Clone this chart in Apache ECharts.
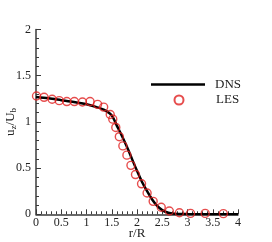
<!DOCTYPE html>
<html>
<head>
<meta charset="utf-8">
<script src="https://cdn.jsdelivr.net/npm/echarts@6/dist/echarts.min.js"></script>
<style>
html,body{margin:0;padding:0;background:#fff;}
#c{width:272px;height:242px;}
</style>
</head>
<body>
<div id="c"></div>
<script>
const xTicks = [0, 0.5, 1, 1.5, 2, 2.5, 3, 3.5, 4];
const yTicks = [0, 0.5, 1, 1.5, 2];
const dnsR = [0, 0.25, 0.5, 0.75, 1.0, 1.2, 1.35, 1.5, 1.6, 1.7, 1.8, 1.9, 2.0, 2.1, 2.2, 2.3, 2.4, 2.5, 2.6, 2.75, 3.0, 3.5, 4.0];
const dnsU = [1.27, 1.255, 1.235, 1.215, 1.19, 1.16, 1.13, 1.07, 0.96, 0.85, 0.73, 0.60, 0.47, 0.35, 0.25, 0.16, 0.09, 0.045, 0.02, 0.007, 0.002, 0, 0];
const lesR = [0.01, 0.16, 0.32, 0.46, 0.61, 0.76, 0.92, 1.07, 1.22, 1.34, 1.47, 1.52, 1.58, 1.65, 1.72, 1.80, 1.88, 1.97, 2.09, 2.20, 2.32, 2.48, 2.64, 2.84, 3.06, 3.35, 3.71];
const lesU = [1.28, 1.266, 1.245, 1.23, 1.22, 1.22, 1.215, 1.22, 1.19, 1.16, 1.08, 1.03, 0.94, 0.84, 0.74, 0.64, 0.53, 0.43, 0.33, 0.23, 0.14, 0.076, 0.036, 0.017, 0.01, 0.01, 0.007];

const font = "'Liberation Serif', 'Times New Roman', serif";
const chart = echarts.init(document.getElementById('c'), null, {renderer: 'canvas'});
const axisCommon = {
  axisLine: {show: true, lineStyle: {color: '#3a3a3a', width: 1.5}},
  axisTick: {show: true, inside: true, length: 5, lineStyle: {color: '#3a3a3a', width: 1}},
  minorTick: {show: true, splitNumber: 5, length: 3, lineStyle: {color: '#3a3a3a', width: 1}},
  splitLine: {show: false},
  nameMoveOverlap: false,
  axisLabel: {fontFamily: font, fontSize: 12, color: '#222'}
};
chart.setOption({
  animation: false,
  backgroundColor: '#fff',
  grid: {left: 36, right: 34, top: 29.5, bottom: 27.7, containLabel: false, outerBoundsMode: 'none'},
  xAxis: Object.assign({}, axisCommon, {
    type: 'value', min: xTicks[0], max: xTicks[xTicks.length - 1], interval: 0.5,
    name: 'r/R', nameLocation: 'middle', nameGap: 13,
    nameTextStyle: {fontFamily: font, fontSize: 13, color: '#222'},
    axisLabel: Object.assign({}, axisCommon.axisLabel, {margin: 3, formatter: v => String(v)})
  }),
  yAxis: Object.assign({}, axisCommon, {
    type: 'value', min: yTicks[0], max: yTicks[yTicks.length - 1], interval: 0.5,
    name: '{m|u}{s|z}{m|/U}{s|b}', nameLocation: 'middle', nameGap: 18, nameRotate: 90,
    nameTextStyle: {fontFamily: font, fontSize: 13, color: '#222',
      rich: {m: {fontFamily: font, fontSize: 13, color: '#222'},
             s: {fontFamily: font, fontSize: 9, color: '#222', verticalAlign: 'bottom', padding: [6, 0, 0, 0]}}},
    axisLabel: Object.assign({}, axisCommon.axisLabel, {margin: 5, formatter: v => String(v)})
  }),
  legend: [
    {data: [{name: 'DNS', icon: 'rect'}], left: 151, top: 78, itemWidth: 54, itemHeight: 2.5, padding: 0,
     itemStyle: {color: '#000'},
     textStyle: {fontFamily: font, fontSize: 13, color: '#222', padding: [0, 0, 0, 5]}},
    {data: ['LES'], left: 173.5, top: 93.5, itemWidth: 9, itemHeight: 9, padding: 0,
     textStyle: {fontFamily: font, fontSize: 13, color: '#222', padding: [0, 0, 0, 27.5]}}
  ],
  series: [
    {name: 'DNS', type: 'line', data: dnsR.map((r, i) => [r, dnsU[i]]), symbol: 'none', smooth: 0.3,
     lineStyle: {color: '#000', width: 2.5}, itemStyle: {color: '#000'}, z: 2},
    {name: 'LES', type: 'scatter', data: lesR.map((r, i) => [r, lesU[i]]), symbol: 'circle', symbolSize: 8,
     itemStyle: {color: 'rgba(255,255,255,0)', borderColor: '#e02020', borderWidth: 1.4}, z: 3}
  ]
});
</script>
</body>
</html>
